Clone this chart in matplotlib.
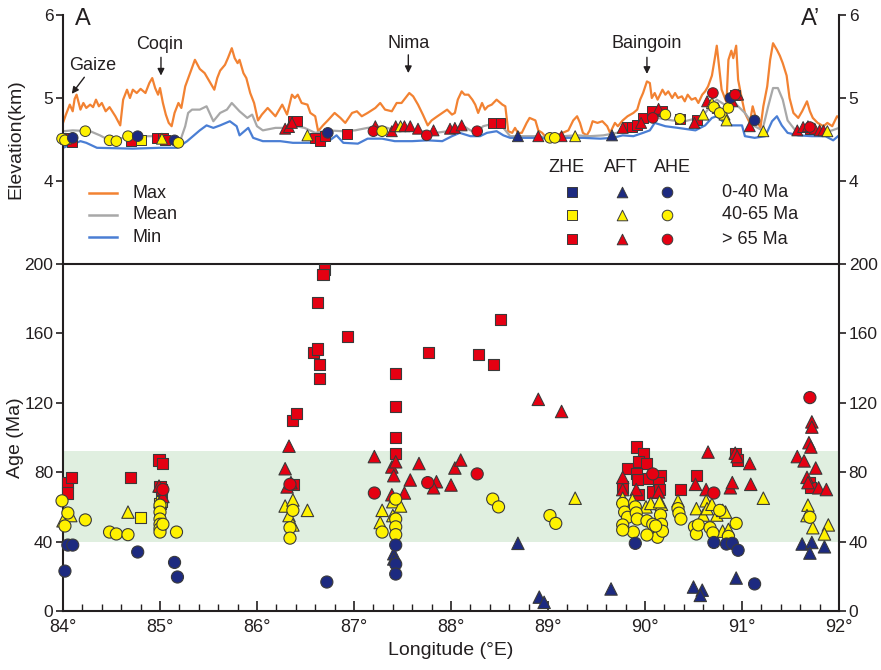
import matplotlib
matplotlib.use('Agg')
from matplotlib import pyplot as plt
from matplotlib.ticker import MultipleLocator, FuncFormatter

plt.rcParams['font.family'] = ['Liberation Sans', 'DejaVu Sans']
plt.rcParams['text.color'] = '#231f20'
plt.rcParams['axes.labelcolor'] = '#231f20'
plt.rcParams['xtick.color'] = '#231f20'
plt.rcParams['ytick.color'] = '#231f20'

# ---- swath profile along A-A' (km) ----
max_lon = [84.00, 84.03, 84.07, 84.10, 84.12, 84.14, 84.18, 84.21, 84.24, 84.28,
           84.31, 84.34, 84.37, 84.40, 84.44, 84.48, 84.54, 84.59, 84.62, 84.66,
           84.69, 84.72, 84.76, 84.80, 84.85, 84.89, 84.92, 84.95, 84.98, 85.00,
           85.03, 85.06, 85.09, 85.12, 85.15, 85.19, 85.22, 85.26, 85.31, 85.36,
           85.41, 85.46, 85.52, 85.56, 85.59, 85.62, 85.67, 85.70, 85.74, 85.77,
           85.80, 85.82, 85.86, 85.89, 85.93, 85.97, 86.01, 86.05, 86.11, 86.19,
           86.26, 86.31, 86.36, 86.39, 86.42, 86.46, 86.52, 86.55, 86.60, 86.63,
           86.68, 86.73, 86.80, 86.86, 86.91, 86.98, 87.03, 87.08, 87.14, 87.22,
           87.27, 87.32, 87.39, 87.44, 87.49, 87.53, 87.57, 87.61, 87.66, 87.71,
           87.76, 87.80, 87.86, 87.91, 87.96, 88.01, 88.04, 88.07, 88.11, 88.14,
           88.18, 88.22, 88.25, 88.28, 88.32, 88.35, 88.38, 88.42, 88.47, 88.53,
           88.56, 88.59, 88.63, 88.66, 88.69, 88.73, 88.78, 88.81, 88.87, 88.90,
           88.94, 88.97, 89.02, 89.09, 89.15, 89.21, 89.26, 89.30, 89.33, 89.36,
           89.40, 89.43, 89.46, 89.51, 89.56, 89.61, 89.64, 89.69, 89.72, 89.77,
           89.82, 89.88, 89.92, 89.95, 89.98, 90.02, 90.05, 90.07, 90.10, 90.13,
           90.18, 90.21, 90.24, 90.28, 90.31, 90.34, 90.38, 90.41, 90.44, 90.48,
           90.52, 90.55, 90.59, 90.62, 90.65, 90.69, 90.72, 90.74, 90.76, 90.79,
           90.84, 90.86, 90.89, 90.91, 90.94, 90.96, 91.00, 91.03, 91.08, 91.11,
           91.15, 91.19, 91.22, 91.26, 91.29, 91.32, 91.36, 91.39, 91.42, 91.46,
           91.49, 91.53, 91.58, 91.62, 91.67, 91.70, 91.73, 91.78, 91.84, 91.88,
           91.93, 91.98, 92.00]
max_elev = [4.70, 4.80, 4.92, 4.84, 4.99, 5.04, 4.86, 4.94, 4.88, 4.92,
            4.89, 4.98, 4.90, 4.94, 4.84, 4.89, 4.78, 4.67, 4.98, 5.10,
            5.00, 5.10, 5.06, 5.11, 5.06, 5.18, 5.24, 5.12, 5.04, 5.12,
            4.94, 4.80, 4.70, 4.66, 4.82, 4.94, 4.88, 5.14, 5.30, 5.46,
            5.35, 5.30, 5.18, 5.10, 5.24, 5.33, 5.40, 5.48, 5.60, 5.48,
            5.42, 5.46, 5.30, 5.24, 5.06, 4.94, 4.73, 4.80, 4.88, 4.78,
            4.92, 4.80, 5.04, 5.00, 5.04, 4.94, 4.92, 4.82, 4.78, 4.60,
            4.67, 4.73, 4.82, 4.76, 4.70, 4.82, 4.84, 4.78, 4.82, 4.88,
            4.94, 4.86, 4.84, 4.94, 4.94, 5.00, 5.06, 5.02, 4.92, 4.80,
            4.67, 4.73, 4.78, 4.82, 4.86, 4.80, 4.82, 4.98, 5.08, 5.04,
            5.04, 4.98, 4.92, 4.82, 4.94, 4.86, 4.90, 4.92, 4.98, 4.92,
            4.90, 4.60, 4.58, 4.64, 4.58, 4.58, 4.70, 4.76, 4.73, 4.61,
            4.58, 4.54, 4.54, 4.55, 4.58, 4.61, 4.73, 4.78, 4.70, 4.58,
            4.55, 4.61, 4.72, 4.70, 4.72, 4.66, 4.58, 4.70, 4.66, 4.73,
            4.78, 4.82, 4.86, 4.98, 5.06, 5.20, 5.18, 5.00, 5.06, 4.98,
            5.10, 5.04, 5.08, 5.00, 5.06, 5.00, 5.02, 4.96, 5.04, 4.98,
            5.00, 4.94, 5.04, 5.08, 5.14, 5.27, 5.48, 5.63, 5.42, 5.10,
            4.95, 5.46, 5.57, 5.48, 5.63, 5.22, 4.98, 4.82, 4.70, 4.90,
            4.73, 4.64, 4.90, 5.14, 5.46, 5.66, 5.58, 5.51, 5.42, 5.27,
            5.00, 4.82, 4.76, 4.84, 4.96, 4.84, 4.76, 4.70, 4.66, 4.70,
            4.66, 4.78, 4.76]

mean_lon = [84.00, 84.10, 84.28, 84.38, 84.48, 84.62, 84.85, 85.00, 85.12, 85.21,
            85.26, 85.29, 85.33, 85.41, 85.48, 85.55, 85.62, 85.69, 85.74, 85.82,
            85.90, 85.95, 86.00, 86.06, 86.19, 86.29, 86.36, 86.49, 86.60, 86.73,
            86.88, 87.01, 87.14, 87.29, 87.42, 87.56, 87.70, 87.84, 87.97, 88.12,
            88.20, 88.27, 88.33, 88.47, 88.54, 88.61, 88.74, 88.89, 89.02, 89.15,
            89.30, 89.43, 89.57, 89.71, 89.85, 89.98, 90.05, 90.13, 90.28, 90.41,
            90.55, 90.62, 90.69, 90.74, 90.82, 90.90, 90.96, 91.03, 91.13, 91.21,
            91.27, 91.32, 91.37, 91.42, 91.47, 91.55, 91.65, 91.78, 91.93, 92.00]
mean_elev = [4.60, 4.61, 4.60, 4.55, 4.49, 4.52, 4.54, 4.54, 4.54, 4.49,
             4.66, 4.82, 4.86, 4.86, 4.90, 4.72, 4.82, 4.86, 4.94, 4.84,
             4.76, 4.80, 4.66, 4.61, 4.64, 4.64, 4.67, 4.64, 4.58, 4.61,
             4.60, 4.61, 4.64, 4.66, 4.61, 4.61, 4.60, 4.58, 4.60, 4.67,
             4.61, 4.58, 4.66, 4.70, 4.64, 4.54, 4.54, 4.54, 4.52, 4.54,
             4.55, 4.54, 4.55, 4.58, 4.64, 4.72, 4.73, 4.76, 4.73, 4.72,
             4.76, 4.82, 4.92, 4.98, 4.92, 4.98, 4.90, 4.82, 4.66, 4.61,
             4.90, 5.12, 5.12, 4.98, 4.73, 4.61, 4.60, 4.58, 4.61, 4.64]

min_lon = [84.00, 84.18, 84.24, 84.35, 84.72, 85.00, 85.18, 85.28, 85.41, 85.48,
           85.55, 85.62, 85.72, 85.79, 85.82, 85.91, 85.96, 86.06, 86.24, 86.37,
           86.62, 86.75, 86.82, 86.89, 87.04, 87.14, 87.29, 87.42, 87.60, 87.76,
           87.91, 88.01, 88.09, 88.20, 88.30, 88.37, 88.47, 88.54, 88.61, 88.85,
           89.02, 89.20, 89.36, 89.54, 89.67, 89.77, 89.88, 89.98, 90.05, 90.10,
           90.21, 90.34, 90.52, 90.62, 90.69, 90.74, 90.82, 90.90, 91.00, 91.03,
           91.13, 91.24, 91.31, 91.36, 91.41, 91.47, 91.58, 91.72, 91.86, 91.94,
           92.00]
min_elev = [4.40, 4.48, 4.46, 4.40, 4.39, 4.40, 4.40, 4.48, 4.61, 4.67,
            4.64, 4.67, 4.72, 4.66, 4.55, 4.64, 4.52, 4.48, 4.48, 4.46,
            4.46, 4.49, 4.55, 4.46, 4.45, 4.51, 4.51, 4.48, 4.48, 4.49,
            4.48, 4.54, 4.58, 4.54, 4.54, 4.58, 4.60, 4.55, 4.52, 4.52,
            4.51, 4.52, 4.52, 4.51, 4.52, 4.55, 4.54, 4.58, 4.61, 4.70,
            4.66, 4.64, 4.61, 4.67, 4.76, 4.78, 4.70, 4.67, 4.67, 4.54,
            4.52, 4.54, 4.72, 4.78, 4.67, 4.58, 4.55, 4.54, 4.54, 4.49,
            4.55]

# ---- sample sites projected on the profile (age class: 0 <40, 1 40-65, 2 >65 Ma) ----
site_zhe_lon = [84.05, 84.09, 84.70, 84.80, 84.97, 85.03, 85.05, 86.37, 86.41, 86.60,
                86.65, 86.70, 86.93, 88.43, 88.51, 89.81, 89.87, 89.92, 89.98, 90.07,
                90.18, 90.36, 90.54, 90.93, 91.70]
site_zhe_elev = [4.52, 4.47, 4.48, 4.49, 4.52, 4.52, 4.49, 4.72, 4.72, 4.52,
                 4.48, 4.54, 4.57, 4.70, 4.70, 4.65, 4.65, 4.67, 4.76, 4.84,
                 4.84, 4.75, 4.73, 5.04, 4.63]
site_zhe_cls = [2, 2, 2, 1, 2, 2, 2, 2, 2, 2,
                2, 2, 2, 2, 2, 2, 2, 2, 2, 2,
                2, 2, 2, 2, 2]

site_aft_lon = [84.03, 85.02, 86.29, 86.33, 86.36, 86.52, 87.22, 87.39, 87.43, 87.48,
                87.52, 87.58, 87.66, 87.82, 87.99, 88.04, 88.11, 88.69, 88.90, 89.14,
                89.28, 89.66, 89.77, 89.96, 90.14, 90.51, 90.60, 90.64, 90.69, 90.75,
                90.82, 90.84, 90.90, 90.96, 91.08, 91.22, 91.57, 91.63, 91.68, 91.75,
                91.80, 91.84, 91.88]
site_aft_elev = [4.51, 4.51, 4.63, 4.65, 4.70, 4.55, 4.66, 4.60, 4.66, 4.66,
                 4.66, 4.66, 4.63, 4.61, 4.63, 4.64, 4.67, 4.54, 4.54, 4.54,
                 4.54, 4.55, 4.64, 4.70, 4.87, 4.70, 4.80, 4.96, 4.94, 4.88,
                 4.80, 4.73, 4.96, 5.04, 4.66, 4.60, 4.61, 4.65, 4.66, 4.63,
                 4.61, 4.61, 4.60]
site_aft_cls = [1, 1, 2, 2, 2, 1, 2, 2, 2, 1,
                2, 2, 2, 2, 2, 2, 2, 0, 2, 2,
                1, 0, 2, 2, 2, 2, 1, 2, 1, 1,
                1, 1, 2, 2, 2, 1, 2, 2, 2, 2,
                2, 2, 1]

site_ahe_lon = [83.99, 84.02, 84.10, 84.23, 84.48, 84.55, 84.67, 84.77, 85.15, 85.19,
                86.73, 87.20, 87.29, 87.75, 88.27, 89.02, 89.07, 90.08, 90.21, 90.36,
                90.70, 90.71, 90.77, 90.86, 90.88, 90.93, 91.13, 91.70]
site_ahe_elev = [4.51, 4.49, 4.52, 4.60, 4.49, 4.48, 4.54, 4.54, 4.49, 4.46,
                 4.58, 4.60, 4.60, 4.55, 4.60, 4.52, 4.52, 4.76, 4.80, 4.75,
                 5.06, 4.89, 4.82, 4.88, 5.00, 5.04, 4.73, 4.65]
site_ahe_cls = [1, 1, 0, 1, 1, 1, 1, 0, 0, 1,
                0, 2, 1, 2, 2, 1, 1, 2, 1, 1,
                2, 1, 1, 1, 0, 2, 0, 2]

# ---- thermochronology ages (Ma) ----
zhe_lon = [84.05, 84.09, 84.05, 84.70, 84.80, 84.99, 85.03, 85.00, 85.02, 85.00,
           85.02, 86.37, 86.41, 86.38, 86.70, 86.68, 86.62, 86.93, 86.58, 86.62,
           86.64, 86.64, 87.43, 87.43, 87.43, 87.43, 87.77, 88.28, 88.44, 88.51,
           89.91, 89.98, 89.93, 90.02, 89.82, 89.91, 89.92, 90.04, 90.16, 90.14,
           90.08, 90.15, 89.93, 89.77, 90.53, 90.37, 90.93, 90.95, 91.70, 91.71]
zhe_age = [74, 77, 68, 77, 54, 87, 85, 72, 70, 62,
           63, 110, 114, 73, 197, 194, 178, 158, 149, 151,
           142, 134, 137, 118, 100, 91, 149, 148, 142, 168,
           94.5, 91, 86, 85, 82, 79, 76, 76.6, 78, 74,
           68.6, 70, 67, 71.5, 78, 70, 91, 87, 74, 71]

aft_lon = [84.00, 84.08, 84.67, 85.00, 84.99, 85.03, 86.29, 86.33, 86.31, 86.35,
           86.29, 86.37, 86.33, 86.52, 86.37, 87.21, 87.39, 87.43, 87.41, 87.39,
           87.52, 87.58, 87.67, 87.85, 87.82, 88.00, 88.04, 88.10, 88.90, 89.14,
           87.29, 87.27, 87.40, 87.48, 87.40, 87.41, 87.41, 88.69, 88.91, 88.96,
           89.28, 89.65, 89.77, 89.77, 89.91, 90.14, 90.65, 90.52, 90.63, 90.88,
           90.90, 91.08, 91.09, 90.93, 90.95, 91.57, 91.64, 91.76, 91.67, 91.69,
           91.71, 91.72, 91.72, 91.79, 91.87, 91.68, 89.77, 89.87, 90.01, 90.06,
           90.17, 90.15, 90.10, 90.34, 90.53, 90.60, 90.63, 90.64, 90.69, 90.74,
           90.80, 90.83, 90.80, 90.86, 91.22, 90.50, 90.59, 90.57, 90.94, 91.62,
           91.72, 91.70, 91.85, 91.68, 91.67, 91.73, 91.89, 91.85]
aft_age = [52, 55, 57, 63, 72, 66, 82, 95, 71.5, 74,
           60.5, 64, 55, 58, 49.6, 89, 83, 86, 78, 67,
           68, 75.5, 85, 74.5, 71, 72.6, 82.4, 87, 122, 115,
           58, 51, 63, 60.5, 55, 33, 30, 39, 8, 5,
           65, 12.7, 77, 70, 70, 68.6, 91.6, 73, 70, 71,
           74, 85, 73, 91, 89, 89, 86.5, 82.4, 77, 97,
           94.5, 109, 106, 71, 70, 74, 65, 64, 60, 62,
           61.5, 63, 48, 63.5, 59, 55.3, 63.5, 59, 61.5, 55.3,
           58, 57, 46, 47, 65, 13.8, 12, 9, 19, 38.6,
           39.5, 33.4, 37, 61, 55, 48, 49.6, 44.4]

ahe_lon = [83.99, 84.02, 84.05, 84.23, 84.05, 84.10, 84.02, 84.48, 84.55, 84.67,
           84.77, 85.00, 85.00, 85.00, 85.00, 85.00, 85.00, 85.03, 85.03, 85.17,
           85.15, 85.18, 86.37, 86.34, 86.34, 86.34, 86.72, 87.21, 87.76, 88.27,
           87.43, 87.43, 87.43, 87.43, 87.29, 87.43, 87.43, 87.43, 88.43, 88.49,
           89.02, 89.08, 90.08, 90.71, 91.70, 89.77, 89.79, 89.82, 89.90, 89.91,
           89.92, 90.02, 90.08, 90.16, 90.17, 90.15, 90.13, 90.02, 89.88, 89.77,
           89.77, 90.18, 90.11, 89.90, 90.34, 90.35, 90.37, 90.51, 90.53, 90.55,
           90.67, 90.70, 90.77, 90.86, 90.94, 90.71, 90.84, 90.90, 90.96, 91.13,
           91.70]
ahe_age = [63.5, 49, 56.5, 52.5, 38, 38, 23, 45.5, 44.4, 44,
           34, 61, 57, 53, 50, 47.5, 45.5, 50, 70, 45.5,
           28, 19.6, 58, 48, 42, 73, 16.7, 68, 74, 79,
           64.5, 53, 48.5, 44, 45.5, 38, 27, 21.3, 64.5, 60,
           55, 50.5, 79, 68, 123, 62, 57, 54, 60, 56.5,
           53, 52, 50, 55.3, 50, 45, 42.5, 43.8, 45.5, 49.6,
           46.7, 46, 49, 39, 59, 56.4, 53, 48.5, 44.4, 49.6,
           48, 45, 58, 43, 50.5, 39.5, 38.6, 39, 35, 15.6,
           54]

class_labels = ['0-40 Ma', '40-65 Ma', '> 65 Ma']
class_colors = ['#1d2a80', '#fff200', '#e50012']
edge = '#3a3a3a'
ink = '#231f20'


def age_class(a):
    if a < 40:
        return 0
    if a <= 65:
        return 1
    return 2


fig = plt.figure(figsize=(8.81, 6.70), dpi=100)
ax_top = fig.add_axes([63 / 881, 1 - 264 / 670, 776 / 881, 249 / 670])
ax_bot = fig.add_axes([63 / 881, 1 - 611 / 670, 776 / 881, 347 / 670])

# ---------------- top: elevation ----------------
ax_top.plot(max_lon, max_elev, color='#f28232', lw=1.6, zorder=2)
ax_top.plot(mean_lon, mean_elev, color='#a8a8a8', lw=1.6, zorder=2)
ax_top.plot(min_lon, min_elev, color='#4a7ed4', lw=1.6, zorder=2)

for lon, elev, cls, mk, sz in [(site_zhe_lon, site_zhe_elev, site_zhe_cls, 's', 50),
                               (site_aft_lon, site_aft_elev, site_aft_cls, '^', 62),
                               (site_ahe_lon, site_ahe_elev, site_ahe_cls, 'o', 58)]:
    ax_top.scatter(lon, elev, s=sz, marker=mk, c=[class_colors[k] for k in cls],
                   edgecolors=edge, linewidths=0.7, zorder=3, clip_on=False)

ax_top.set_xlim(84, 92)
ax_top.set_ylim(3, 6)
ax_top.set_yticks([4, 5, 6])
for side in ['top', 'bottom']:
    ax_top.spines[side].set_visible(False)
for side in ['left', 'right']:
    ax_top.spines[side].set_linewidth(1.5)
    ax_top.spines[side].set_color(ink)
ax_top.tick_params(axis='x', bottom=False, labelbottom=False)
ax_top.tick_params(axis='y', direction='out', length=5, width=1.2, right=True,
                   labelright=True, labelsize=12.5, pad=2)
ax_top.set_ylabel('Elevation(km)', fontsize=14)
ax_top.yaxis.set_label_coords(-0.050, 0.5)

ax_top.text(0.015, 0.985, 'A', transform=ax_top.transAxes, fontsize=17, va='center', ha='left')
ax_top.text(0.976, 0.985, 'A\u2019', transform=ax_top.transAxes, fontsize=17, va='center', ha='right')

# place names with arrows
places = [('Gaize', (84.31, 5.39), (84.22, 5.25), (84.09, 5.05)),
          ('Coqin', (85.00, 5.64), (85.01, 5.49), (85.01, 5.27)),
          ('Nima', (87.56, 5.66), (87.56, 5.52), (87.56, 5.30)),
          ('Baingoin', (90.02, 5.66), (90.02, 5.49), (90.02, 5.29))]
for name, txt, tail, head in places:
    ax_top.text(txt[0], txt[1], name, fontsize=13, ha='center', va='center')
    ax_top.annotate('', xy=head, xytext=tail,
                    arrowprops=dict(arrowstyle='-|>', color=ink, lw=1.0,
                                    mutation_scale=10, shrinkA=0, shrinkB=0))

# line key
for y, col, lab in [(0.285, '#f28232', 'Max'), (0.197, '#a8a8a8', 'Mean'), (0.108, '#4a7ed4', 'Min')]:
    ax_top.plot([0.034, 0.070], [y, y], color=col, lw=1.8, transform=ax_top.transAxes)
    ax_top.text(0.089, y, lab, fontsize=13, va='center', transform=ax_top.transAxes)

# symbol key
for x, head in [(0.649, 'ZHE'), (0.719, 'AFT'), (0.786, 'AHE')]:
    ax_top.text(x, 0.386, head, fontsize=13, ha='center', va='center', transform=ax_top.transAxes)
for k, y in enumerate([0.289, 0.197, 0.100]):
    for x, mk, sz in [(0.656, 's', 48), (0.720, '^', 58), (0.778, 'o', 58)]:
        ax_top.scatter([x], [y], s=sz, marker=mk, c=class_colors[k], edgecolors=edge,
                       linewidths=0.7, transform=ax_top.transAxes, clip_on=False)
    ax_top.text(0.849, y, class_labels[k], fontsize=13, va='center', transform=ax_top.transAxes)

# ---------------- bottom: ages ----------------
ax_bot.axhspan(40, 92, color='#e0efe0', zorder=0, lw=0)
for lon, age, mk, sz in [(zhe_lon, zhe_age, 's', 64), (aft_lon, aft_age, '^', 80),
                         (ahe_lon, ahe_age, 'o', 76)]:
    ax_bot.scatter(lon, age, s=sz, marker=mk, c=[class_colors[age_class(a)] for a in age],
                   edgecolors=edge, linewidths=0.8, zorder=3, clip_on=False)

ax_bot.set_xlim(84, 92)
ax_bot.set_ylim(0, 200)
ax_bot.set_yticks(range(0, 201, 40))
ax_bot.set_xticks(range(84, 93))
ax_bot.xaxis.set_minor_locator(MultipleLocator(0.2))
ax_bot.xaxis.set_major_formatter(FuncFormatter(lambda v, p: f'{int(round(v))}\u00b0'))
for side in ax_bot.spines.values():
    side.set_linewidth(1.5)
    side.set_color(ink)
ax_bot.tick_params(axis='y', direction='out', length=5, width=1.2, right=True,
                   labelright=True, labelsize=12.5, pad=2)
ax_bot.tick_params(axis='x', which='major', direction='in', length=7, width=1.2,
                   labelsize=13, pad=6)
ax_bot.tick_params(axis='x', which='minor', direction='in', length=5, width=1.0)
ax_bot.set_ylabel('Age (Ma)', fontsize=14)
ax_bot.yaxis.set_label_coords(-0.050, 0.5)
ax_bot.set_xlabel('Longitude (\u00b0E)', fontsize=14)
ax_bot.xaxis.set_label_coords(0.5, -0.088)

fig.savefig('out.png', dpi=100)
